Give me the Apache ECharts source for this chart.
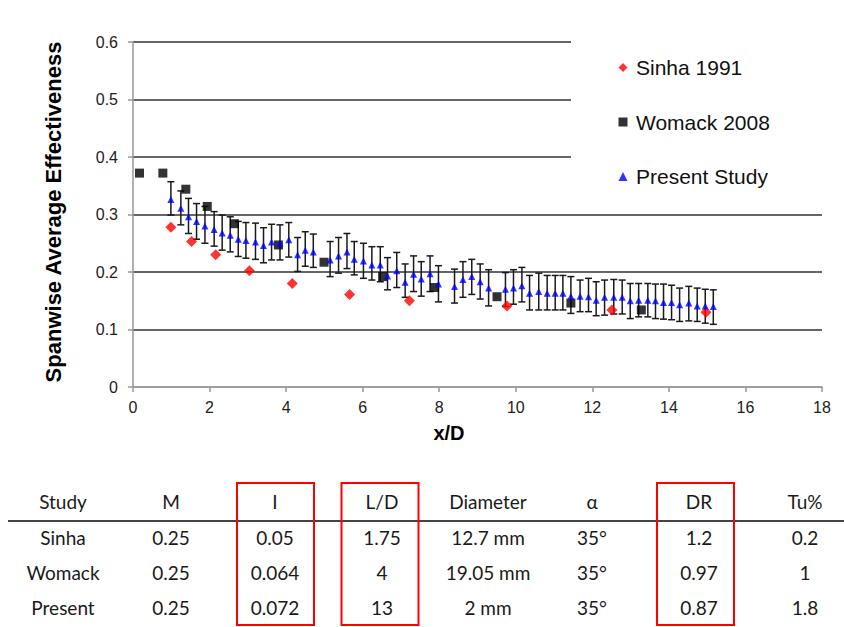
<!DOCTYPE html>
<html><head><meta charset="utf-8">
<script src="https://cdn.jsdelivr.net/npm/echarts@6/dist/echarts.min.js"></script>
<style>html,body{margin:0;padding:0;background:#fff}#c{width:844px;height:627px}</style>
</head><body><div id="c"></div>
<script>
// ---- chart data ----
const sinhaX = [0.99, 1.53, 2.16, 3.04, 4.16, 5.66, 7.22, 9.77, 12.51, 14.97];
const sinhaY = [0.278, 0.253, 0.230, 0.202, 0.180, 0.161, 0.150, 0.141, 0.134, 0.130];

const womackX = [0.17, 0.78, 1.38, 1.94, 2.65, 3.80, 4.99, 6.52, 7.88, 9.51, 11.44, 13.28];
const womackY = [0.372, 0.372, 0.344, 0.314, 0.284, 0.247, 0.217, 0.192, 0.173, 0.157, 0.146, 0.134];

const presentX = [0.99, 1.25, 1.45, 1.66, 1.88, 2.12, 2.33, 2.54, 2.75, 2.95, 3.20, 3.41, 3.62, 3.84, 4.07, 4.30, 4.50, 4.71,
  5.15, 5.37, 5.59, 5.78, 6.02, 6.24, 6.46, 6.65, 6.89, 7.11, 7.33, 7.53, 7.76, 7.98, 8.40, 8.62, 8.85, 9.07, 9.29,
  9.73, 9.94, 10.16, 10.36, 10.60, 10.82, 11.03, 11.23, 11.44, 11.68, 11.90, 12.10, 12.32, 12.56, 12.78, 12.99,
  13.21, 13.45, 13.65, 13.86, 14.07, 14.28, 14.52, 14.74, 14.95, 15.16];
const presentY = [0.326, 0.311, 0.296, 0.288, 0.280, 0.274, 0.268, 0.264, 0.257, 0.255, 0.252, 0.246, 0.252, 0.250, 0.256, 0.230, 0.238, 0.235,
  0.221, 0.228, 0.235, 0.222, 0.219, 0.212, 0.212, 0.193, 0.202, 0.182, 0.196, 0.188, 0.197, 0.179, 0.175, 0.187, 0.192, 0.183, 0.172,
  0.170, 0.172, 0.176, 0.163, 0.166, 0.163, 0.163, 0.163, 0.158, 0.158, 0.157, 0.151, 0.156, 0.156, 0.156, 0.150,
  0.151, 0.151, 0.150, 0.147, 0.147, 0.143, 0.146, 0.141, 0.141, 0.140];
const presentLow = [0.299, 0.282, 0.267, 0.257, 0.250, 0.245, 0.238, 0.235, 0.227, 0.224, 0.222, 0.216, 0.221, 0.221, 0.226, 0.201, 0.210, 0.208,
  0.192, 0.198, 0.206, 0.195, 0.189, 0.186, 0.183, 0.169, 0.173, 0.156, 0.166, 0.158, 0.166, 0.148, 0.146, 0.156, 0.161, 0.153, 0.141,
  0.140, 0.144, 0.148, 0.134, 0.134, 0.134, 0.134, 0.134, 0.128, 0.131, 0.131, 0.124, 0.125, 0.127, 0.127, 0.119,
  0.122, 0.122, 0.119, 0.118, 0.117, 0.114, 0.115, 0.114, 0.111, 0.109];
const presentHigh = [0.357, 0.341, 0.328, 0.319, 0.314, 0.305, 0.299, 0.296, 0.288, 0.286, 0.285, 0.277, 0.283, 0.282, 0.286, 0.260, 0.270, 0.266,
  0.253, 0.260, 0.267, 0.253, 0.250, 0.244, 0.244, 0.225, 0.234, 0.214, 0.228, 0.218, 0.228, 0.211, 0.205, 0.218, 0.222, 0.214, 0.204,
  0.199, 0.204, 0.208, 0.194, 0.198, 0.194, 0.194, 0.194, 0.192, 0.186, 0.189, 0.183, 0.186, 0.187, 0.186, 0.180,
  0.180, 0.180, 0.179, 0.179, 0.177, 0.172, 0.175, 0.172, 0.170, 0.169];

const seriesNames = ['Sinha 1991', 'Womack 2008', 'Present Study'];
const legendIcons = ['diamond', 'rect', 'triangle'];
const xTitle = 'x/D';
const yTitle = 'Spanwise Average Effectiveness';

// ---- table data ----
const tableHeader = ['Study', 'M', 'I', 'L/D', 'Diameter', 'α', 'DR', 'Tu%'];
const tableRows = [
  ['Sinha', '0.25', '0.05', '1.75', '12.7 mm', '35°', '1.2', '0.2'],
  ['Womack', '0.25', '0.064', '4', '19.05 mm', '35°', '0.97', '1'],
  ['Present', '0.25', '0.072', '13', '2 mm', '35°', '0.87', '1.8']
];
const highlightedCols = [2, 3, 6];

// ---- layout ----
const colCenters = [63, 171, 275, 382, 488, 592, 699, 805];
const boxCenters = {2: 275.5, 3: 380, 6: 695.5};
const headerY = 501, rowYs = [537, 572, 607];
const tableFont = 'Lato, "Open Sans", sans-serif';

const graphics = [];
// cover upper gridlines behind legend
graphics.push({type: 'rect', z: 3, shape: {x: 571, y: 30, width: 270, height: 150}, style: {fill: '#fff'}});
graphics.push({type: 'text', z: 5, x: 53, y: 212, rotation: Math.PI / 2,
  style: {text: yTitle, font: 'bold 22px "Liberation Sans", Arial, sans-serif', fill: '#000', align: 'center', verticalAlign: 'middle'}});
graphics.push({type: 'text', z: 5, x: 449, y: 433,
  style: {text: xTitle, font: 'bold 20px "Liberation Sans", Arial, sans-serif', fill: '#000', align: 'center', verticalAlign: 'middle'}});
tableHeader.forEach((t, i) => graphics.push({type: 'text', z: 5, x: colCenters[i], y: headerY,
  style: {text: t, font: '19px ' + tableFont, fill: '#1a1a1a', align: 'center', verticalAlign: 'middle'}}));
tableRows.forEach((row, r) => row.forEach((t, i) => graphics.push({type: 'text', z: 5, x: colCenters[i], y: rowYs[r],
  style: {text: t, font: '19px ' + tableFont, fill: '#1a1a1a', align: 'center', verticalAlign: 'middle'}})));
graphics.push({type: 'line', z: 5, shape: {x1: 8, y1: 521, x2: 844, y2: 521}, style: {stroke: '#444', lineWidth: 2}});
highlightedCols.forEach(c => graphics.push({type: 'rect', z: 6,
  shape: {x: boxCenters[c] - 38.5, y: 483, width: 77, height: 142}, style: {fill: 'none', stroke: '#ff0000', lineWidth: 2}}));

const chart = echarts.init(document.getElementById('c'), null, {renderer: 'svg'});
const axisLabelStyle = {color: '#222', fontSize: 16, fontFamily: '"Liberation Sans", Arial, sans-serif'};
chart.setOption({
  animation: false,
  backgroundColor: '#fff',
  grid: {left: 133, right: 22, top: 42, bottom: 240, containLabel: false},
  xAxis: {
    type: 'value', min: 0, max: 18, interval: 2,
    axisLine: {show: true, lineStyle: {color: '#999', width: 1.5}},
    axisTick: {show: true, length: 5, lineStyle: {color: '#999', width: 1.5}},
    axisLabel: Object.assign({margin: 12}, axisLabelStyle),
    splitLine: {show: false}
  },
  yAxis: {
    type: 'value', min: 0, max: 0.6, interval: 0.1,
    axisLine: {show: true, lineStyle: {color: '#999', width: 1.5}},
    axisTick: {show: true, length: 5, lineStyle: {color: '#999', width: 1.5}},
    axisLabel: Object.assign({margin: 15}, axisLabelStyle),
    splitLine: {show: true, lineStyle: {color: ['#999', '#333', '#333', '#333', '#333', '#333', '#333'], width: 1.5}}
  },
  legend: {
    data: seriesNames.map((n, i) => ({name: n, icon: legendIcons[i]})),
    orient: 'vertical', left: 613.5, top: 52, z: 10,
    itemWidth: 9, itemHeight: 9, itemGap: 33.5,
    textStyle: {fontSize: 21, lineHeight: 20, color: '#111', padding: [0, 0, 0, 3.5], fontFamily: '"Liberation Sans", Arial, sans-serif'}
  },
  graphic: {elements: graphics},
  series: [
    {
      type: 'custom', name: 'error', silent: true, z: 1,
      data: presentX.map((x, i) => [x, presentLow[i], presentHigh[i]]),
      encode: {x: 0, y: [1, 2]},
      renderItem: function (params, api) {
        const x = api.value(0);
        const p1 = api.coord([x, api.value(1)]);
        const p2 = api.coord([x, api.value(2)]);
        const w = 3.5, st = {stroke: '#1a1a1a', lineWidth: 1.5};
        return {type: 'group', children: [
          {type: 'line', shape: {x1: p1[0], y1: p1[1], x2: p2[0], y2: p2[1]}, style: st},
          {type: 'line', shape: {x1: p1[0] - w, y1: p1[1], x2: p1[0] + w, y2: p1[1]}, style: st},
          {type: 'line', shape: {x1: p2[0] - w, y1: p2[1], x2: p2[0] + w, y2: p2[1]}, style: st}
        ]};
      }
    },
    {
      type: 'scatter', name: seriesNames[0], z: 3, symbol: 'diamond', symbolSize: 11,
      itemStyle: {color: '#ff0000'},
      data: sinhaX.map((x, i) => [x, sinhaY[i]])
    },
    {
      type: 'scatter', name: seriesNames[1], z: 3, symbol: 'rect', symbolSize: 9,
      itemStyle: {color: '#000'},
      data: womackX.map((x, i) => [x, womackY[i]])
    },
    {
      type: 'scatter', name: seriesNames[2], z: 4, symbol: 'triangle', symbolSize: [7, 7],
      itemStyle: {color: '#0000ff'},
      data: presentX.map((x, i) => [x, presentY[i]])
    }
  ]
});
</script>
</body></html>
